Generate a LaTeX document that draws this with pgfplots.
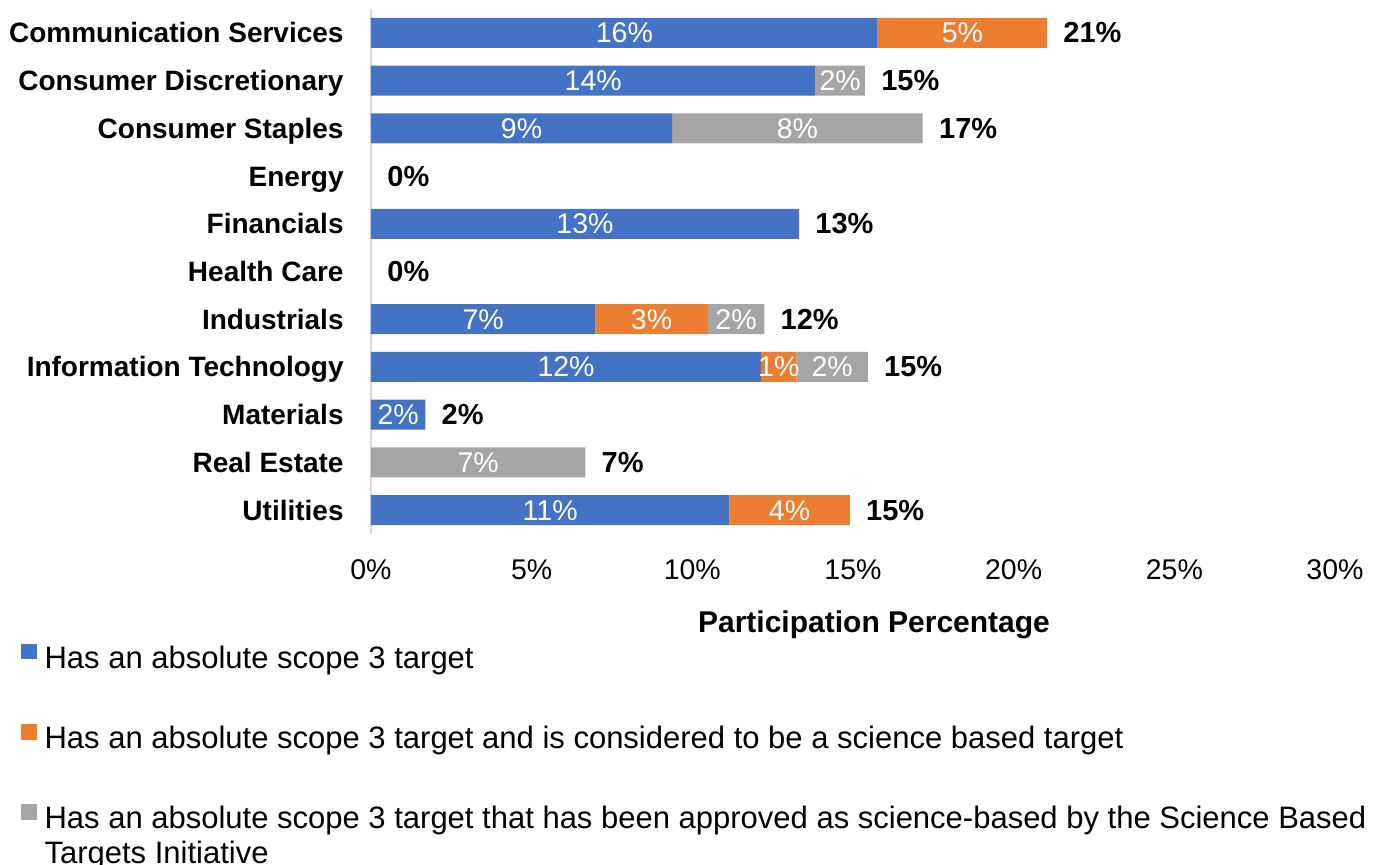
\documentclass[border=0pt]{standalone}
\usepackage{fontspec}
\setmainfont{Liberation Sans}
\usepackage{pgfplots}
\pgfplotsset{compat=1.18}

\definecolor{cblue}{HTML}{4472C4}
\definecolor{corange}{HTML}{ED7D31}
\definecolor{cgray}{HTML}{A5A5A5}
\definecolor{caxis}{HTML}{D9D9D9}

\begin{document}
\begin{tikzpicture}
\begin{axis}[
  scale only axis,
  width=482pt, height=262.5pt,
  xbar stacked, bar width=15pt,
  xmin=0, xmax=30, ymin=-0.5, ymax=10.5,
  clip=false,
  ytick={0,...,10},
  yticklabels={Utilities, Real Estate, Materials, Information Technology, Industrials, Health Care, Financials, Energy, Consumer Staples, Consumer Discretionary, Communication Services},
  xtick={0,5,...,30},
  xticklabels={0\%,5\%,10\%,15\%,20\%,25\%,30\%},
  major tick length=0pt,
  separate axis lines,
  axis x line*=bottom, axis y line*=left,
  x axis line style={draw=none},
  y axis line style={draw=caxis, line width=1pt},
  xticklabel style={font=\fontsize{14.25}{16}\selectfont, anchor=base, yshift=-23pt, inner sep=0pt},
  yticklabel style={font=\fontsize{14}{16}\selectfont\bfseries, anchor=base east, xshift=-13.5pt, yshift=-5pt, inner sep=0pt},
  xlabel={Participation Percentage},
  xlabel style={font=\fontsize{15}{18}\selectfont\bfseries, at={(axis description cs:0.5218,-0.1867)}, anchor=base, inner sep=0pt},
  point meta=explicit symbolic,
  visualization depends on=rawx \as \rawx,
  legend style={at={(axis description cs:-0.3631,-0.2095)}, anchor=north west,
    draw=none, fill=none, inner sep=0pt, outer sep=0pt,
    font=\fontsize{15.5}{17}\selectfont, row sep=26.5pt,
    nodes={inner sep=0pt}},
  legend cell align=left,
  legend image code/.code={\path[#1, draw=none] (0pt,-0.5pt) rectangle (7.8pt,7.2pt);},
]
\addplot[fill=cblue, draw=none, nodes near coords,
  nodes near coords style={font=\fontsize{14.25}{16}\selectfont, text=white, anchor=base, yshift=-5pt, inner sep=0pt}]
  coordinates {(11.15,0)[11\%] (0,1)[] (1.69,2)[2\%] (12.14,3)[12\%] (6.98,4)[7\%] (0,5)[] (13.32,6)[13\%] (0,7)[] (9.37,8)[9\%] (13.83,9)[14\%] (15.77,10)[16\%]};
\addlegendentry{\hspace{4pt}Has an absolute scope 3 target}
\addplot[fill=corange, draw=none, nodes near coords,
  nodes near coords style={font=\fontsize{14.25}{16}\selectfont, text=white, anchor=base, yshift=-5pt, inner sep=0pt}]
  coordinates {(3.75,0)[4\%] (0,1)[] (0,2)[] (1.10,3)[1\%] (3.50,4)[3\%] (0,5)[] (0,6)[] (0,7)[] (0,8)[] (0,9)[] (5.27,10)[5\%]};
\addlegendentry{\hspace{4pt}Has an absolute scope 3 target and is considered to be a science based target}
\addplot[fill=cgray, draw=none, nodes near coords,
  nodes near coords style={font=\fontsize{14.25}{16}\selectfont, text=white, anchor=base, yshift=-5pt, inner sep=0pt}]
  coordinates {(0,0)[] (6.67,1)[7\%] (0,2)[] (2.22,3)[2\%] (1.76,4)[2\%] (0,5)[] (0,6)[] (0,7)[] (7.80,8)[8\%] (1.54,9)[2\%] (0,10)[]};
\addlegendentry{\hspace{4pt}\makebox[0pt][l]{\raisebox{-17.5pt}[0pt][0pt]{Targets Initiative}}Has an absolute scope 3 target that has been approved as science-based by the Science Based}
\addplot[stack plots=false, fill=none, draw=none, nodes near coords,
  nodes near coords style={font=\fontsize{14.5}{16}\selectfont\bfseries, text=black, anchor=base west, xshift=\rawx*8.033333pt+8pt, yshift=-5pt, inner sep=0pt}]
  coordinates {(14.90,0)[15\%] (6.67,1)[7\%] (1.69,2)[2\%] (15.46,3)[15\%] (12.24,4)[12\%] (0,5)[0\%] (13.32,6)[13\%] (0,7)[0\%] (17.17,8)[17\%] (15.37,9)[15\%] (21.04,10)[21\%]};
\coordinate (O) at (rel axis cs:0,0);
\end{axis}
\pgfresetboundingbox
\path (O) ++(-185.5pt,-165.5pt) rectangle ++(691pt,432.5pt);
\end{tikzpicture}
\end{document}
